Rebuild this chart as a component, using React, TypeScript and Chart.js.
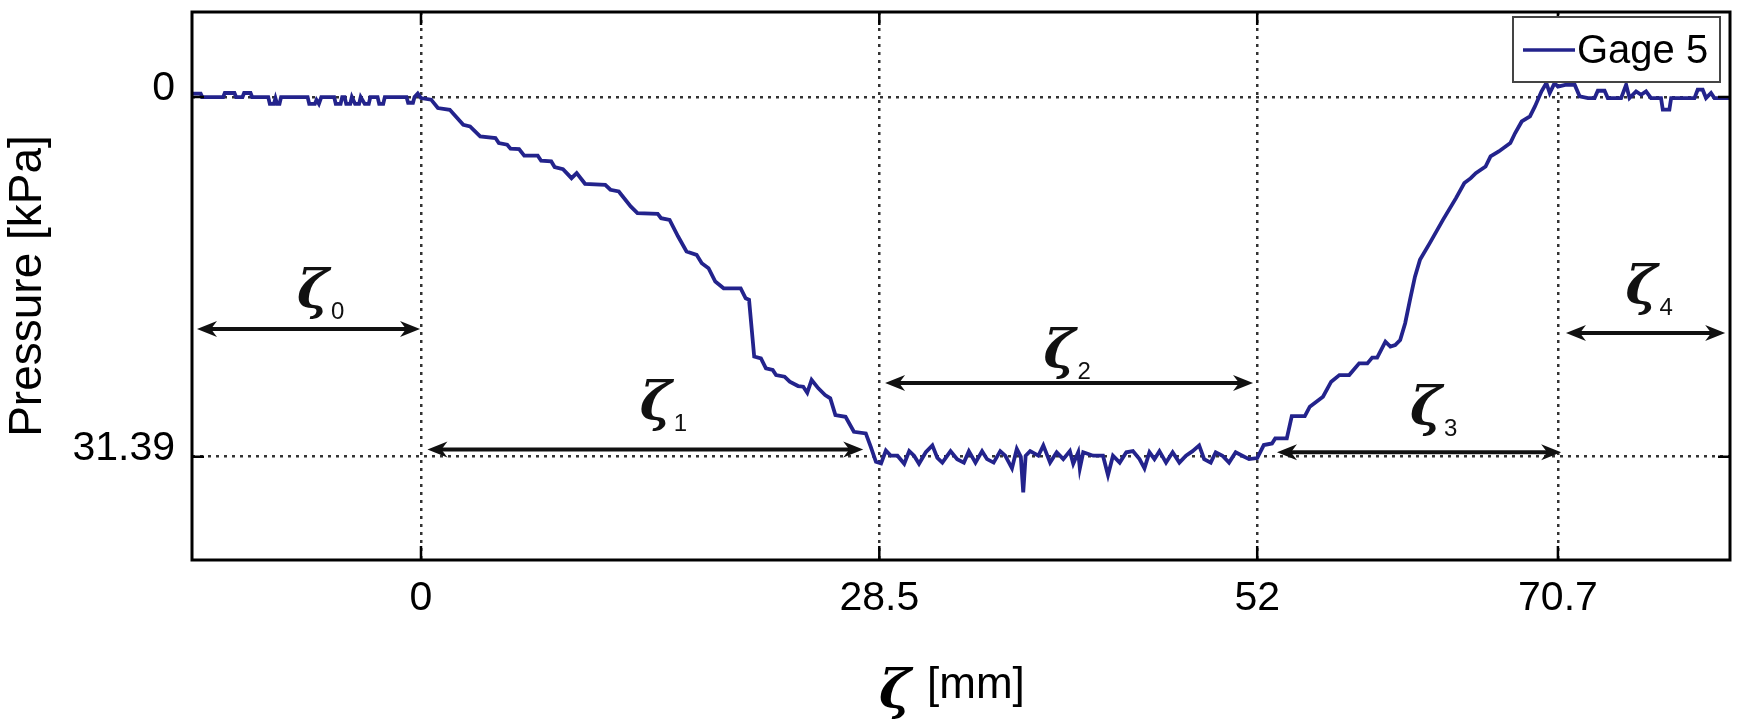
import React, { useEffect, useRef } from 'react';
import { Chart, registerables } from 'chart.js';

Chart.register(...registerables);

// ---------------- data (position ζ in mm, pressure drop in kPa) ----------------
const preX = [-14.24, -13.7, -13.6, -12.3, -12.2, -11.6, -11.5, -11.1, -11.0, -10.6, -10.5, -9.5, -9.4, -9.15, -9.05, -8.95, -8.8, -8.7, -7.05, -6.95, -6.6, -6.5, -6.35, -6.2, -5.4, -5.3, -5.0, -4.9, -4.75, -4.65, -4.4, -4.3, -4.1, -3.85, -3.75, -3.5, -3.25, -3.15, -2.7, -2.6, -2.35, -2.25, -0.9, -0.8, -0.5, -0.4, -0.2];
const preY = [-0.3, -0.3, 0, 0, -0.35, -0.35, 0, 0, -0.35, -0.35, 0, 0, 0.6, 0.6, 0.1, 0.6, 0.6, 0, 0, 0.6, 0.6, 0.25, 0.6, 0, 0, 0.6, 0.6, 0, 0, 0.6, 0.6, 0, 0.6, 0.6, 0, 0.6, 0.6, 0, 0, 0.6, 0.6, 0, 0, 0.5, 0.5, 0, -0.3];

const rampDownX = [0, 0.63, 1.05, 1.79, 2.63, 3.05, 3.68, 4.63, 4.84, 5.36, 5.57, 6.10, 6.42, 7.26, 7.47, 8.10, 8.31, 8.83, 9.36, 9.68, 10.20, 11.46, 11.78, 12.30, 13.04, 13.46, 14.72, 14.93, 15.46, 15.99, 16.51, 17.14, 17.46, 17.88, 18.30, 18.82, 19.88, 20.19, 20.40, 20.72, 21.14, 21.45, 21.87, 22.08, 22.61, 22.93, 23.45, 23.77, 24.02, 24.29, 24.71, 25.13, 25.45, 25.77, 26.40, 26.92, 27.66, 27.97, 28.29, 28.61];
const rampDownY = [0.09, 0.23, 0.96, 1.11, 2.42, 2.56, 3.44, 3.58, 4.02, 4.16, 4.51, 4.54, 5.12, 5.12, 5.56, 5.62, 6.11, 6.29, 7.08, 6.64, 7.57, 7.66, 8.09, 8.24, 9.55, 10.13, 10.19, 10.57, 10.72, 12.17, 13.48, 13.77, 14.50, 14.94, 16.10, 16.69, 16.69, 17.56, 17.70, 22.65, 22.80, 23.67, 23.82, 24.26, 24.40, 24.84, 25.22, 25.28, 25.80, 24.69, 25.42, 26.00, 26.29, 27.75, 27.90, 29.21, 29.35, 30.52, 31.83, 31.97];

const plateauX = [28.91, 29.22, 29.63, 30.05, 30.36, 30.66, 30.97, 31.39, 31.80, 32.11, 32.42, 32.93, 33.34, 33.76, 34.07, 34.48, 34.89, 35.20, 35.61, 36.02, 36.33, 36.75, 37.05, 37.3, 37.45, 37.6, 37.88, 38.39, 38.70, 39.12, 39.53, 39.94, 40.35, 40.56, 40.87, 40.97, 41.18, 41.80, 42.41, 42.72, 43.03, 43.45, 43.86, 44.27, 44.68, 44.99, 45.30, 45.61, 45.92, 46.33, 46.74, 47.16, 47.57, 47.98, 48.39, 48.70, 49.11, 49.42, 49.84, 50.25, 50.66, 51.07, 51.49, 52.0];
const plateauY = [30.85, 31.3, 31.3, 32.0, 30.9, 31.3, 32.0, 31.0, 30.4, 31.5, 31.9, 30.9, 31.6, 31.9, 30.9, 31.9, 30.9, 31.6, 31.9, 30.9, 31.3, 32.4, 30.7, 31.4, 34.5, 31.3, 30.9, 31.3, 30.4, 31.9, 31.0, 31.6, 30.9, 32.0, 31.0, 32.4, 31.0, 31.3, 31.3, 33.0, 31.3, 31.9, 31.0, 30.9, 31.6, 32.4, 31.0, 31.6, 30.9, 31.9, 31.0, 31.9, 31.3, 30.9, 30.4, 31.6, 31.9, 31.0, 31.3, 31.9, 31.0, 31.3, 31.6, 31.5];

const rampUpX = [52.41, 52.92, 53.12, 53.84, 54.15, 54.96, 55.27, 55.68, 56.09, 56.60, 57.11, 57.72, 58.34, 58.85, 59.15, 59.46, 59.97, 60.28, 60.58, 60.89, 61.20, 61.50, 61.81, 62.12, 62.73, 63.55, 64.36, 64.88, 65.28, 65.59, 66.20, 66.51, 67.02, 67.74, 68.04, 68.45, 68.96, 69.27, 69.68, 69.98, 70.19, 70.49];
const rampUpY = [30.37, 30.23, 29.79, 29.79, 27.84, 27.84, 27.02, 26.59, 26.15, 24.84, 24.26, 24.26, 23.24, 23.24, 22.74, 22.74, 21.34, 21.78, 21.64, 21.20, 19.74, 17.70, 15.67, 14.21, 12.75, 10.72, 8.82, 7.51, 7.08, 6.64, 6.06, 5.18, 4.75, 4.02, 3.14, 2.13, 1.69, 0.82, -0.50, -1.22, -0.35, -1.22];

const postX = [70.70, 71.22, 71.74, 72.05, 72.57, 72.98, 73.18, 73.60, 73.80, 74.63, 74.94, 75.15, 75.56, 75.87, 76.18, 76.49, 77.11, 77.22, 77.63, 77.74, 79.19, 79.39, 79.70, 79.91, 80.22, 80.43, 81.4];
const postY = [-0.9, -1.07, -1.07, -0.06, 0.09, 0.09, -0.55, -0.55, 0.09, 0.09, -1.07, 0.09, -0.49, -0.2, -0.49, 0.09, 0.09, 1.1, 1.1, 0.09, 0.09, -0.64, -0.64, 0.09, -0.35, 0.09, 0.09];

// ---------------- axes ----------------
const xTickValues = [0, 28.5, 52, 70.7];
const xTickLabels = ['0', '28.5', '52', '70.7'];
const yTickValues = [0, 31.39];
const yTickLabels = ['0', '31.39'];
const X_MIN = -14.24;
const X_MAX = 81.4;
const Y_MIN = -7.42;
const Y_MAX = 40.4;

const seriesLabel = 'Gage 5';
const yAxisTitle = 'Pressure [kPa]';
const xAxisSymbol = 'ζ';
const xAxisUnit = '[mm]';

// ---------------- span annotations ζ0..ζ4 ----------------
const spanSubscripts = ['0', '1', '2', '3', '4'];
const spanFrom = [-13.93, 0.4, 28.86, 53.23, 71.2];
const spanTo = [-0.06, 27.5, 51.74, 70.9, 81.1];
const spanLevel = [20.25, 30.75, 24.96, 31.0, 20.6];
const spanLabelX = [-6.72, 14.6, 39.7, 62.5, 75.9];
const spanLabelY = [17.1, 26.9, 22.3, 27.3, 16.75];

const SANS = '"Liberation Sans", Arial, Helvetica, sans-serif';
const SERIF = '"DejaVu Serif", "Liberation Serif", serif';
const LINE_COLOR = '#23238c';
const GRID_COLOR = '#333';

function segment(xs: number[], ys: number[]) {
  return xs.map((x, i) => ({ x, y: ys[i] }));
}

const points = [
  ...segment(preX, preY),
  ...segment(rampDownX, rampDownY),
  ...segment(plateauX, plateauY),
  ...segment(rampUpX, rampUpY),
  ...segment(postX, postY),
];

function arrowHead(ctx: CanvasRenderingContext2D, tipX: number, y: number, dir: number) {
  const L = 20, W = 8, N = 6;
  ctx.beginPath();
  ctx.moveTo(tipX, y);
  ctx.lineTo(tipX - dir * L, y - W);
  ctx.lineTo(tipX - dir * (L - N), y);
  ctx.lineTo(tipX - dir * L, y + W);
  ctx.closePath();
  ctx.fill();
}

function drawZeta(ctx: CanvasRenderingContext2D, symbol: string, cx: number, cy: number, size: number, sub: string | null) {
  ctx.font = `italic bold ${size}px ${SERIF}`;
  ctx.textAlign = 'center';
  ctx.textBaseline = 'alphabetic';
  const m = ctx.measureText(symbol);
  const asc = m.actualBoundingBoxAscent;
  const desc = m.actualBoundingBoxDescent;
  const baseline = cy + (asc - desc) / 2;
  ctx.fillText(symbol, cx, baseline);
  if (sub) {
    ctx.font = `24px ${SANS}`;
    ctx.textAlign = 'left';
    ctx.fillText(sub, cx + m.width / 2 + 2, cy + (asc + desc) / 2);
  }
}

const overlayPlugin = {
  id: 'overlay',
  afterDatasetsDraw(chart: any) {
    const { ctx, chartArea } = chart;
    const { left, right, top, bottom } = chartArea;
    const xs = chart.scales.x;
    const ys = chart.scales.y;
    ctx.save();
    ctx.strokeStyle = '#000';
    ctx.lineWidth = 2.5;
    ctx.beginPath();
    xTickValues.forEach((v) => {
      const px = xs.getPixelForValue(v);
      ctx.moveTo(px, top); ctx.lineTo(px, top + 13);
      ctx.moveTo(px, bottom); ctx.lineTo(px, bottom - 14);
    });
    yTickValues.forEach((v) => {
      const py = ys.getPixelForValue(v);
      ctx.moveTo(left, py); ctx.lineTo(left + 12, py);
      ctx.moveTo(right, py); ctx.lineTo(right - 12, py);
    });
    ctx.stroke();
    ctx.lineWidth = 3;
    ctx.strokeRect(left, top, right - left, bottom - top);
    ctx.restore();
  },
  afterDraw(chart: any) {
    const { ctx, chartArea } = chart;
    const xs = chart.scales.x;
    const ys = chart.scales.y;
    ctx.save();
    // span arrows
    ctx.fillStyle = '#111';
    ctx.strokeStyle = '#111';
    ctx.lineWidth = 4;
    spanFrom.forEach((from, i) => {
      const x1 = xs.getPixelForValue(from);
      const x2 = xs.getPixelForValue(spanTo[i]);
      const y = ys.getPixelForValue(spanLevel[i]);
      ctx.beginPath();
      ctx.moveTo(x1 + 10, y);
      ctx.lineTo(x2 - 10, y);
      ctx.stroke();
      arrowHead(ctx, x1, y, -1);
      arrowHead(ctx, x2, y, 1);
      drawZeta(ctx, xAxisSymbol, xs.getPixelForValue(spanLabelX[i]), ys.getPixelForValue(spanLabelY[i]), 54, spanSubscripts[i]);
    });
    // x axis title
    ctx.fillStyle = '#000';
    const cx = (chartArea.left + chartArea.right) / 2;
    drawZeta(ctx, xAxisSymbol, cx - 66, 693, 54, null);
    ctx.font = `44px ${SANS}`;
    ctx.textAlign = 'left';
    ctx.textBaseline = 'alphabetic';
    ctx.fillText(xAxisUnit, cx - 34, 698);
    // legend
    const bx = chartArea.right - 217;
    const by = chartArea.top + 5;
    ctx.fillStyle = '#fff';
    ctx.fillRect(bx, by, 207, 65);
    ctx.strokeStyle = '#444';
    ctx.lineWidth = 2;
    ctx.strokeRect(bx, by, 207, 65);
    ctx.strokeStyle = LINE_COLOR;
    ctx.lineWidth = 3.5;
    ctx.beginPath();
    ctx.moveTo(bx + 10, by + 33);
    ctx.lineTo(bx + 62, by + 33);
    ctx.stroke();
    ctx.fillStyle = '#000';
    ctx.font = `40px ${SANS}`;
    ctx.fillText(chart.data.datasets[0].label, bx + 64, by + 46);
    ctx.restore();
  },
};

function findLabel(values: number[], labels: string[], v: number) {
  const i = values.findIndex((t) => Math.abs(t - v) < 1e-6);
  return i >= 0 ? labels[i] : '';
}

function zeroPadding(s: any) {
  s.paddingTop = 0;
  s.paddingBottom = 0;
  s.paddingLeft = 0;
  s.paddingRight = 0;
}

export default function App() {
  const ref = useRef<HTMLCanvasElement>(null);
  useEffect(() => {
    if (!ref.current) return;
    const chart = new Chart(ref.current, {
      type: 'line',
      data: {
        datasets: [
          {
            label: seriesLabel,
            data: points,
            borderColor: LINE_COLOR,
            backgroundColor: LINE_COLOR,
            borderWidth: 3.8,
            pointRadius: 0,
            tension: 0,
            fill: false,
          },
        ],
      },
      options: {
        animation: false,
        responsive: false,
        layout: { padding: { left: 0, right: 8, top: 12, bottom: 0 } },
        plugins: { legend: { display: false }, tooltip: { enabled: false } },
        scales: {
          x: {
            type: 'linear',
            min: X_MIN,
            max: X_MAX,
            afterBuildTicks: (s: any) => {
              s.ticks = xTickValues.map((v) => ({ value: v }));
            },
            afterFit: (s: any) => {
              s.height = 161;
              zeroPadding(s);
            },
            ticks: {
              autoSkip: false,
              maxRotation: 0,
              padding: 14,
              color: '#000',
              font: { size: 41, family: SANS },
              callback: (v: any) => findLabel(xTickValues, xTickLabels, Number(v)),
            },
            grid: { color: GRID_COLOR, lineWidth: 2.5, drawTicks: false },
            border: { display: false, dash: [3, 5] },
          },
          y: {
            type: 'linear',
            reverse: true,
            min: Y_MIN,
            max: Y_MAX,
            afterBuildTicks: (s: any) => {
              s.ticks = yTickValues.map((v) => ({ value: v }));
            },
            afterFit: (s: any) => {
              s.width = 192;
              zeroPadding(s);
            },
            ticks: {
              autoSkip: false,
              padding: 17,
              labelOffset: -8,
              color: '#000',
              font: { size: 41, family: SANS },
              callback: (v: any) => findLabel(yTickValues, yTickLabels, Number(v)),
            },
            grid: { color: GRID_COLOR, lineWidth: 2.5, drawTicks: false },
            border: { display: false, dash: [3, 5] },
            title: {
              display: true,
              text: yAxisTitle,
              color: '#000',
              font: { size: 46, family: SANS },
              padding: { top: 1, bottom: 0 },
            },
          },
        },
      },
      plugins: [overlayPlugin],
    } as any);
    return () => chart.destroy();
  }, []);
  return (
    <div style={{ position: 'absolute', left: 0, top: 0, width: 1738, height: 721, background: '#fff' }}>
      <canvas ref={ref} width={1738} height={721} style={{ display: 'block' }} />
    </div>
  );
}
